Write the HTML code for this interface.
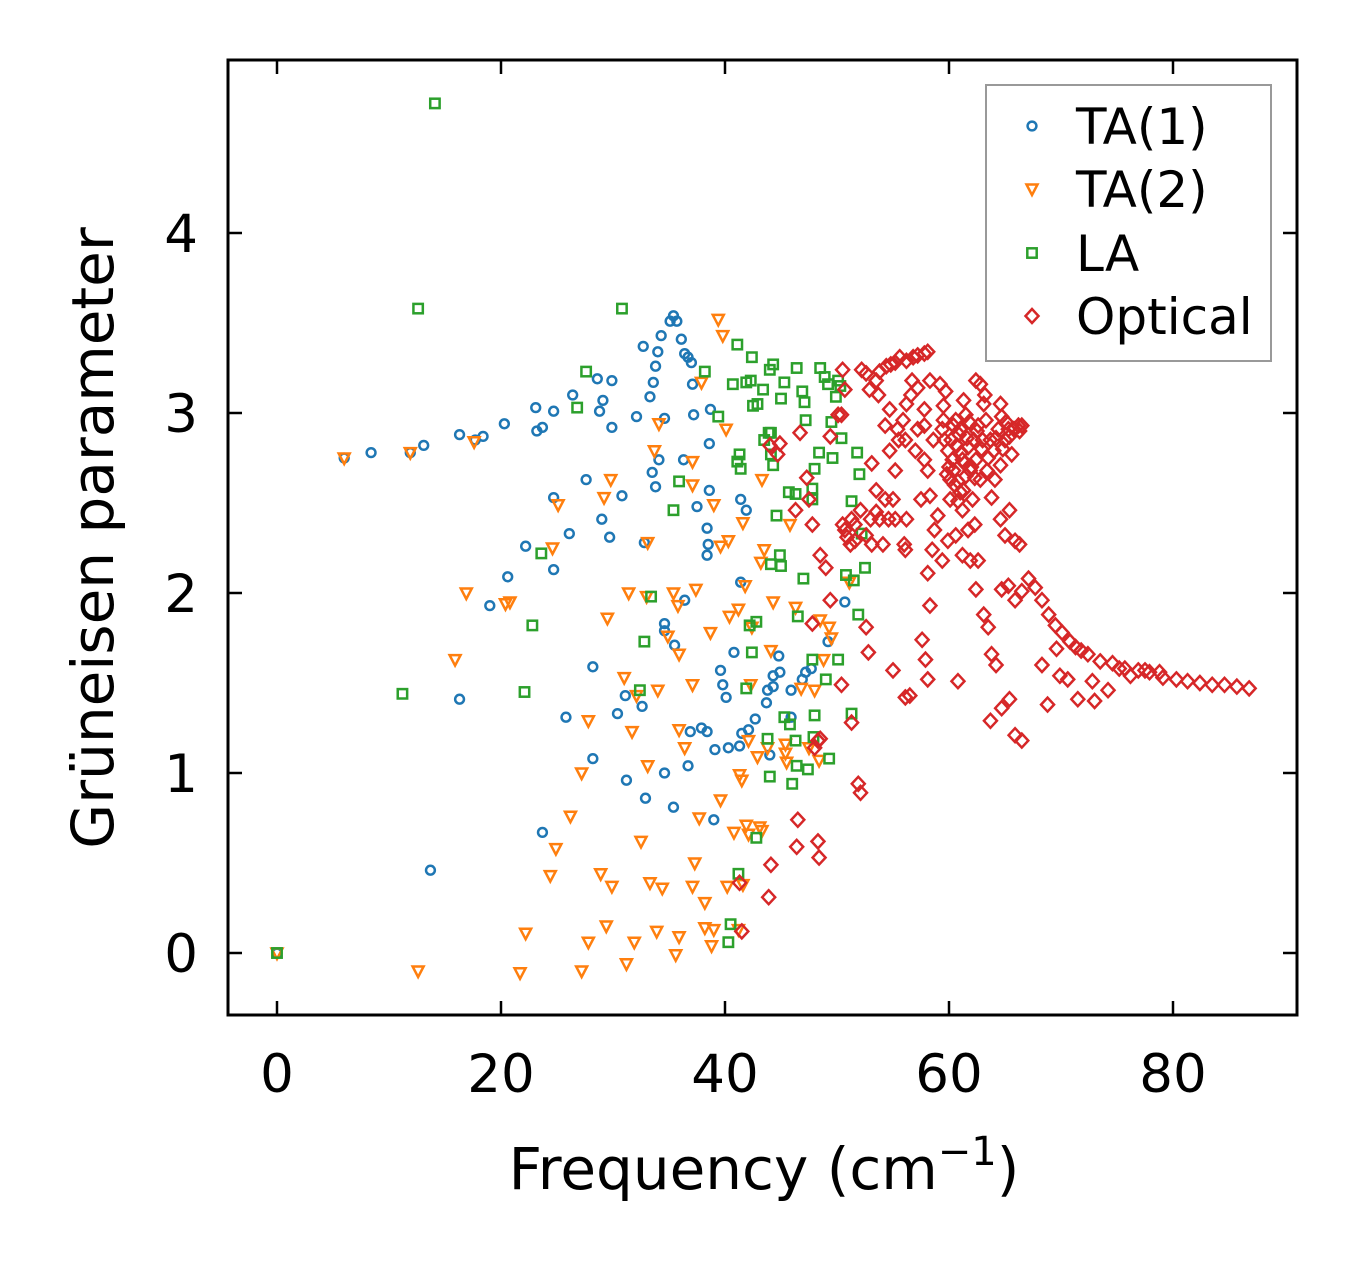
<!DOCTYPE html>
<html><head><meta charset="utf-8">
<style>
html,body{margin:0;padding:0;background:#fff;}
svg{display:block;font-family:"DejaVu Sans","Liberation Sans",sans-serif;}
</style></head>
<body>
<svg id="chart" width="1357" height="1264" viewBox="0 0 1357 1264" xmlns="http://www.w3.org/2000/svg">
<rect width="1357" height="1264" fill="#fff"/>
<g id="marks"></g>
<g id="axes"></g>
<text x="764" y="1189" font-size="58" text-anchor="middle">Frequency (cm<tspan font-size="40" dy="-24">−1</tspan><tspan dy="24">)</tspan></text>
<text transform="translate(113,538) rotate(-90)" font-size="58" text-anchor="middle">Grüneisen parameter</text>
<g>
<rect x="986" y="85" width="285" height="276" fill="#fff" stroke="#999" stroke-width="2"/>
<g id="legend-entries"></g>
</g>
</svg>
<script>
const xTicks=[0,20,40,60,80];
const yTicks=[0,1,2,3,4];
const seriesNames=["TA(1)","TA(2)","LA","Optical"];
const ta1=[[0,0],[6.0,2.75],[8.4,2.78],[11.9,2.78],[13.1,2.82],[16.3,2.88],[17.7,2.85],[18.4,2.87],[20.3,2.94],[23.1,3.03],[23.2,2.90],[23.7,2.92],[24.7,3.01],[26.4,3.10],[28.6,3.19],[28.8,3.01],[29.1,3.07],[29.9,3.18],[29.9,2.92],[32.1,2.98],[32.7,3.37],[33.3,3.09],[33.6,3.17],[33.8,3.26],[34.0,3.34],[34.3,3.43],[34.6,2.97],[35.1,3.51],[35.4,3.54],[35.7,3.51],[36.1,3.41],[36.4,3.33],[36.7,3.31],[37.0,3.28],[37.1,3.16],[37.2,2.99],[38.7,3.02],[38.6,2.83],[19.0,1.93],[20.6,2.09],[22.2,2.26],[24.7,2.53],[24.7,2.13],[26.1,2.33],[27.6,2.63],[29.0,2.41],[29.7,2.31],[30.8,2.54],[32.8,2.28],[33.5,2.67],[33.8,2.59],[34.1,2.74],[34.6,1.83],[34.6,1.79],[35.5,1.71],[36.4,1.96],[38.4,2.36],[38.5,2.27],[38.4,2.21],[38.6,2.57],[36.3,2.74],[37.5,2.48],[41.4,2.06],[41.4,2.52],[41.9,2.46],[16.3,1.41],[25.8,1.31],[28.2,1.08],[28.2,1.59],[30.4,1.33],[31.1,1.43],[32.6,1.37],[31.2,0.96],[32.9,0.86],[34.6,1.00],[35.4,0.81],[36.7,1.04],[36.9,1.23],[37.9,1.25],[38.4,1.23],[39.1,1.13],[39.0,0.74],[39.6,1.57],[39.8,1.49],[40.1,1.42],[40.8,1.67],[40.3,1.14],[41.3,1.15],[41.5,1.22],[42.1,1.24],[42.7,1.30],[43.7,1.39],[43.8,1.46],[44.0,1.10],[44.3,1.54],[44.3,1.48],[44.8,1.65],[44.9,1.56],[45.9,1.46],[45.9,1.31],[46.9,1.52],[47.2,1.56],[47.7,1.58],[49.2,1.73],[50.7,1.95],[23.7,0.67],[13.7,0.46]];
const ta2=[[0,0],[6,2.75],[11.9,2.78],[17.6,2.84],[16.9,2.0],[15.9,1.63],[20.4,1.94],[20.8,1.95],[24.6,2.25],[25.1,2.49],[29.2,2.53],[29.8,2.63],[31.4,2.0],[29.5,1.86],[33.1,2.28],[33.7,2.79],[34.1,2.94],[37.1,2.6],[37.9,3.17],[39.4,3.52],[39.8,3.43],[40.1,2.91],[39.0,2.49],[37.1,2.73],[39.6,2.26],[40.3,2.29],[40.4,1.87],[41.6,2.39],[41.8,2.04],[41.2,1.91],[43.2,2.17],[43.3,2.63],[35.4,2.0],[37.4,2.02],[33.0,1.98],[35.8,1.93],[34.9,1.76],[35.9,1.66],[38.7,1.78],[37.1,1.49],[34.0,1.46],[31.0,1.53],[32.1,1.43],[31.7,1.23],[27.8,1.29],[27.2,1.0],[26.2,0.76],[24.9,0.58],[24.4,0.43],[22.2,0.11],[21.7,-0.11],[12.6,-0.10],[27.2,-0.10],[27.8,0.06],[28.9,0.44],[29.9,0.37],[29.4,0.15],[31.2,-0.06],[31.9,0.06],[32.5,0.62],[33.1,1.04],[33.3,0.39],[33.9,0.12],[34.4,0.36],[35.6,-0.01],[35.9,0.09],[36.4,1.14],[35.9,1.24],[37.1,0.37],[37.3,0.50],[37.7,0.75],[38.2,0.28],[38.2,0.14],[38.8,0.04],[39.0,0.13],[39.6,0.85],[40.2,0.37],[40.8,0.67],[41.2,0.13],[41.6,0.38],[41.3,0.99],[41.5,0.96],[41.9,0.71],[42.1,0.66],[42.1,1.18],[42.3,1.49],[42.4,1.81],[43.1,0.70],[43.3,0.68],[42.9,1.09],[43.8,1.14],[44.3,1.95],[44.1,1.68],[45.4,1.16],[45.5,1.06],[45.4,1.11],[45.8,2.38],[46.3,1.92],[46.8,1.47],[47.5,1.14],[48.0,1.46],[48.4,1.07],[48.5,1.85],[48.8,1.63],[49.3,1.81],[49.5,1.75],[51.1,2.06],[43.5,2.24]];
const la=[[0,0],[14.1,4.72],[12.6,3.58],[11.2,1.44],[22.1,1.45],[22.8,1.82],[23.6,2.22],[26.8,3.03],[27.6,3.23],[30.8,3.58],[32.4,1.46],[32.8,1.73],[33.4,1.98],[35.4,2.46],[35.9,2.62],[39.4,2.98],[38.2,3.23],[40.7,3.16],[41.1,3.38],[41.3,2.77],[41.4,2.69],[41.1,2.73],[41.9,3.17],[42.3,3.18],[42.4,3.31],[41.9,1.47],[42.4,1.67],[42.8,1.84],[42.2,1.82],[42.5,3.04],[42.9,3.05],[43.4,3.13],[43.5,2.85],[43.9,2.89],[44.0,3.24],[44.3,3.27],[44.1,2.77],[44.3,2.71],[44.6,2.43],[44.1,2.16],[44.9,2.21],[45.0,2.15],[45.0,3.08],[45.3,3.17],[45.7,2.56],[46.3,2.55],[46.4,3.25],[46.9,3.12],[47.1,3.06],[47.2,2.96],[47.0,2.08],[46.5,1.87],[46.0,0.94],[46.4,1.04],[47.4,1.02],[47.8,2.58],[47.8,2.52],[48.0,2.69],[48.4,2.78],[48.5,3.25],[48.9,3.20],[49.2,3.16],[49.5,2.95],[49.6,2.75],[49.9,3.09],[50.1,3.18],[50.3,3.15],[50.4,2.86],[50.8,2.1],[51.3,2.51],[51.5,2.07],[51.8,2.78],[51.9,1.88],[52.0,2.66],[52.5,2.14],[52.2,2.33],[47.8,1.63],[48.0,1.32],[47.9,1.20],[49.0,1.52],[50.1,1.63],[51.3,1.33],[49.3,1.08],[44.0,0.98],[43.8,1.19],[45.3,1.31],[45.8,1.27],[46.3,1.18],[42.8,0.64],[41.2,0.44],[40.3,0.06],[40.5,0.16],[44.1,2.89]];
const optical=[[86.8,1.47],[85.7,1.48],[84.6,1.49],[83.5,1.49],[82.4,1.50],[81.3,1.51],[80.3,1.52],[79.1,1.53],[77.9,1.56],[76.9,1.57],[75.7,1.58],[74.6,1.61],[73.5,1.62],[72.4,1.66],[71.8,1.68],[71.3,1.70],[70.8,1.73],[70.1,1.78],[69.5,1.82],[68.9,1.88],[68.3,1.96],[67.7,2.03],[67.1,2.08],[66.5,2.01],[65.9,1.96],[65.3,2.04],[64.7,2.02],[72.8,1.51],[74.2,1.46],[76.2,1.54],[73.0,1.40],[71.5,1.41],[69.9,1.54],[68.8,1.38],[68.3,1.60],[69.6,1.69],[70.6,1.52],[75.2,1.58],[77.5,1.57],[78.8,1.56],[65.4,1.41],[65.9,1.21],[66.5,1.18],[63.7,1.29],[64.7,1.36],[64.2,1.60],[63.8,1.66],[63.5,1.81],[63.1,1.88],[62.4,2.02],[60.8,1.51],[58.1,2.11],[58.3,1.93],[58.1,1.52],[57.9,1.63],[57.6,1.74],[56.5,1.43],[56.1,1.42],[55.0,1.57],[52.8,1.67],[52.6,1.81],[51.9,0.94],[52.1,0.89],[51.3,1.28],[50.4,1.49],[48.3,1.18],[48.5,1.19],[48.0,1.14],[48.3,0.62],[48.4,0.53],[46.5,0.74],[46.4,0.59],[44.1,0.49],[43.9,0.31],[41.5,0.12],[41.3,0.39],[48.5,2.21],[49.0,2.14],[49.4,1.96],[47.8,1.83],[46.3,2.46],[44.7,2.77],[44.9,2.83],[47.3,2.64],[47.5,2.52],[49.4,2.87],[50.1,2.99],[50.4,2.99],[50.7,3.13],[50.5,3.24],[50.5,2.38],[50.9,2.31],[51.3,2.41],[51.6,2.29],[52.2,3.24],[52.6,3.22],[52.9,3.13],[53.5,3.18],[53.7,3.10],[53.8,3.23],[54.4,3.26],[54.8,3.27],[55.2,3.28],[55.6,3.31],[56.2,3.29],[56.8,3.31],[57.2,3.32],[57.8,3.33],[58.1,3.34],[53.1,2.72],[53.5,2.57],[53.5,2.45],[53.0,2.41],[53.8,2.41],[54.1,2.27],[54.6,2.41],[55.0,2.52],[55.2,2.68],[55.5,2.85],[55.9,2.96],[56.2,3.05],[56.6,3.10],[56.7,3.18],[56.0,2.27],[56.2,2.41],[56.1,2.24],[57.0,2.79],[57.2,2.91],[57.5,2.52],[57.8,2.93],[57.8,2.74],[58.1,2.68],[58.3,2.54],[58.5,2.24],[58.7,2.35],[59.0,2.43],[59.2,3.16],[59.7,3.12],[59.5,3.04],[59.5,2.96],[59.4,2.91],[59.6,2.85],[59.9,2.79],[60.3,2.74],[60.1,2.63],[60.4,2.68],[60.7,2.82],[61.0,2.91],[61.2,2.74],[61.3,2.57],[61.5,2.99],[61.7,2.81],[61.9,2.68],[62.1,2.52],[62.2,2.85],[62.4,2.74],[62.6,2.93],[62.8,2.63],[63.0,2.85],[63.1,3.05],[63.2,3.10],[62.8,3.16],[62.4,3.18],[63.3,2.96],[63.7,2.85],[64.0,2.79],[64.4,2.91],[64.6,3.05],[64.7,2.98],[65.0,2.85],[65.3,2.91],[65.4,2.87],[65.8,2.91],[66.2,2.93],[66.3,2.90],[66.5,2.93],[65.6,2.77],[64.6,2.71],[64.1,2.63],[63.8,2.53],[64.6,2.41],[65.0,2.32],[65.4,2.46],[65.9,2.29],[66.3,2.27],[62.3,2.38],[62.6,2.18],[61.9,2.18],[61.2,2.21],[60.6,2.32],[59.9,2.29],[59.4,2.18],[60.8,2.51],[60.1,2.52],[61.2,2.46],[61.7,2.35],[60.6,2.96],[61.3,3.07],[58.6,2.85],[57.8,3.02],[57.2,3.14],[58.3,3.18],[54.7,3.02],[54.3,2.93],[55.4,2.91],[56.1,2.85],[54.7,2.79],[54.3,2.52],[55.2,2.41],[52.1,2.46],[52.6,2.32],[53.1,2.27],[50.7,2.35],[51.6,2.38],[51.2,2.27],[47.8,2.38],[44.0,2.82],[46.7,2.89],[60.5,2.60],[61.5,2.65],[62.0,2.70],[63.5,2.75],[64.8,2.80],[60.9,2.88],[61.8,2.95],[62.9,2.80],[64.2,2.86],[65.1,2.95],[60.2,2.85],[61.1,2.78],[60.0,2.70],[60.8,2.62],[61.6,2.86],[62.5,2.90],[63.4,2.68],[60.4,2.93],[61.4,2.72],[62.3,2.64],[59.8,2.66],[61.0,2.56]];

const NS="http://www.w3.org/2000/svg";
const X0=228,X1=1297,Y0=60,Y1=1015;
function xs(v){return 277+v*11.2;}
function ys(v){return 953-v*180;}
const colors=["#1f77b4","#ff7f0e","#2ca02c","#d62728"];
function marker(kind,cx,cy,color){
  let el;
  if(kind===0){el=document.createElementNS(NS,"circle");el.setAttribute("cx",cx);el.setAttribute("cy",cy);el.setAttribute("r",4.4);}
  else if(kind===1){el=document.createElementNS(NS,"polygon");el.setAttribute("points",`${cx-5.5},${cy-4.5} ${cx+5.5},${cy-4.5} ${cx},${cy+6}`);}
  else if(kind===2){el=document.createElementNS(NS,"rect");el.setAttribute("x",cx-4.7);el.setAttribute("y",cy-4.7);el.setAttribute("width",9.4);el.setAttribute("height",9.4);}
  else {el=document.createElementNS(NS,"polygon");el.setAttribute("points",`${cx},${cy-7} ${cx+6.5},${cy} ${cx},${cy+7} ${cx-6.5},${cy}`);}
  el.setAttribute("fill","none");el.setAttribute("stroke",color);el.setAttribute("stroke-width",2.5);
  return el;
}
const marks=document.getElementById("marks");
const allSeries=[ta1,ta2,la,optical];
const seriesKeys=["ta1","ta2","la","optical"];
allSeries.forEach((s,k)=>{
  const g=document.createElementNS(NS,"g");
  
  
  s.forEach(p=>{
    const m=marker(k,xs(p[0]),ys(p[1]),colors[k]);
    
    
    g.appendChild(m);
  });
  marks.appendChild(g);
});
const axes=document.getElementById("axes");
function line(x1,y1,x2,y2,w,name){
  const l=document.createElementNS(NS,"line");
  l.setAttribute("x1",x1);l.setAttribute("y1",y1);l.setAttribute("x2",x2);l.setAttribute("y2",y2);
  l.setAttribute("stroke","#000");l.setAttribute("stroke-width",w);
  
  
  axes.appendChild(l);
}
function text(x,y,s,anchor,name){
  const t=document.createElementNS(NS,"text");
  t.setAttribute("x",x);t.setAttribute("y",y);t.setAttribute("font-size",53);t.setAttribute("text-anchor",anchor);
  t.textContent=s;
  
  
  axes.appendChild(t);
}
const frame=document.createElementNS(NS,"rect");
frame.setAttribute("x",X0);frame.setAttribute("y",Y0);frame.setAttribute("width",X1-X0);frame.setAttribute("height",Y1-Y0);
frame.setAttribute("fill","none");frame.setAttribute("stroke","#000");frame.setAttribute("stroke-width",3);


axes.appendChild(frame);
xTicks.forEach(v=>{
  const x=xs(v);
  line(x,Y1,x,Y1-14,2.5,'x-tick');
  line(x,Y0,x,Y0+14,2.5,'x-tick-top');
  text(x,1092,String(v),"middle",'x-tick-label');
});
yTicks.forEach(v=>{
  const y=ys(v);
  line(X0,y,X0+14,y,2.5,'y-tick');
  line(X1,y,X1-14,y,2.5,'y-tick-right');
  text(198,y+19,String(v),"end",'y-tick-label');
});
const leg=document.getElementById("legend-entries");
const legY=[126,189,253,316];
seriesNames.forEach((n,k)=>{
  const m=marker(k,1032,legY[k],colors[k]);
  
  
  leg.appendChild(m);
  const t=document.createElementNS(NS,"text");
  t.setAttribute("x",1076);t.setAttribute("y",legY[k]+18);t.setAttribute("font-size",50);
  t.textContent=n;
  
  
  leg.appendChild(t);
});
</script>
</body></html>
